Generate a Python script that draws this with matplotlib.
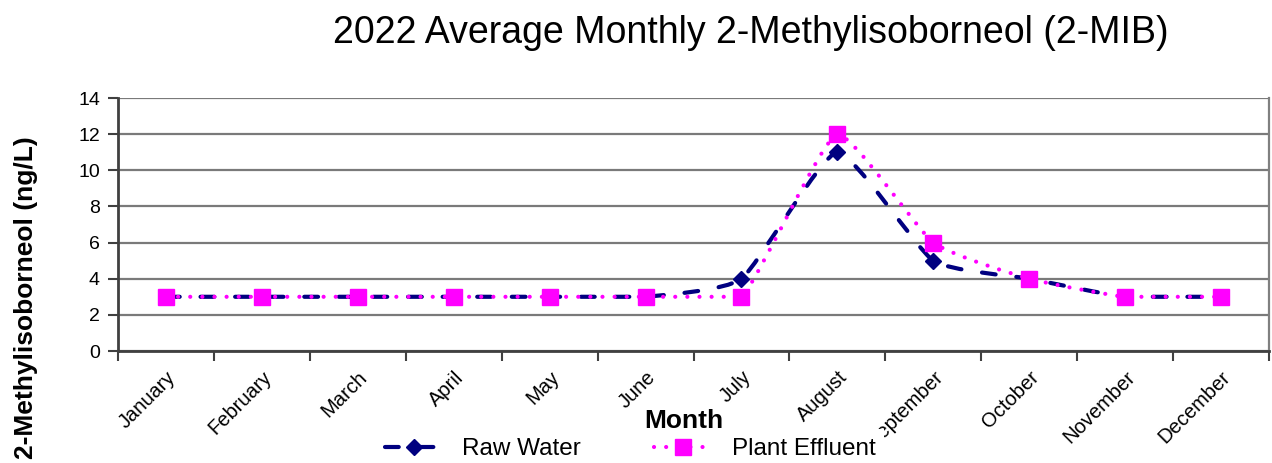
import numpy as np
import matplotlib
matplotlib.use('Agg')
import matplotlib.pyplot as plt
from matplotlib.path import Path
from matplotlib.patches import PathPatch
from matplotlib.lines import Line2D

months = ['January', 'February', 'March', 'April', 'May', 'June', 'July',
          'August', 'September', 'October', 'November', 'December']
raw_water = [3, 3, 3, 3, 3, 3, 4, 11, 5, 4, 3, 3]
plant_effluent = [3, 3, 3, 3, 3, 3, 3, 12, 6, 4, 3, 3]
y_ticks = [0, 2, 4, 6, 8, 10, 12, 14]

plt.rcParams['font.family'] = ['Liberation Sans', 'DejaVu Sans']

W, H = 1272, 463
fig = plt.figure(figsize=(W / 100, H / 100), dpi=100)
ax = fig.add_axes([118 / W, 1 - 351 / H, (1269 - 118) / W, (351 - 98) / H])

NAVY = '#000080'
MAGENTA = '#FF00FF'


def smooth_path(xs, ys, k=1 / 12):
    pts = np.column_stack([xs, ys]).astype(float)
    n = len(pts)
    verts = [pts[0]]
    codes = [Path.MOVETO]
    for i in range(n - 1):
        p0 = pts[max(i - 1, 0)]
        p1 = pts[i]
        p2 = pts[i + 1]
        p3 = pts[min(i + 2, n - 1)]
        c1 = p1 + (p2 - p0) * k
        c2 = p2 - (p3 - p1) * k
        lo, hi = min(p1[1], p2[1]), max(p1[1], p2[1])
        c1[1] = np.clip(c1[1], lo, hi)
        c2[1] = np.clip(c2[1], lo, hi)
        verts += [c1, c2, p2.copy()]
        codes += [Path.CURVE4] * 3
    return Path(verts, codes)


x = np.arange(len(months))

raw_dash = (0, (3.3, 5.0))
eff_dash = (0, (0.01, 2.9))
RAW_MS = 8.5
EFF_MS = 11

p1 = PathPatch(smooth_path(x, raw_water), fill=False, edgecolor=NAVY, lw=3,
               linestyle=raw_dash, capstyle='round', joinstyle='round', zorder=3)
ax.add_patch(p1)
ax.plot(x, raw_water, linestyle='none', marker='D', markersize=RAW_MS,
        color=NAVY, zorder=4)

p2 = PathPatch(smooth_path(x, plant_effluent), fill=False, edgecolor=MAGENTA, lw=3,
               linestyle=eff_dash, capstyle='round', joinstyle='round', zorder=5)
ax.add_patch(p2)
ax.plot(x, plant_effluent, linestyle='none', marker='s', markersize=EFF_MS,
        color=MAGENTA, zorder=6)

ax.set_xlim(-0.5, len(months) - 0.5)
ax.set_ylim(0, 14)
ax.set_yticks(y_ticks)
ax.set_yticklabels([str(v) for v in y_ticks], fontsize=14)
ax.yaxis.grid(True, color='#7a7a7a', lw=1.6)
ax.set_axisbelow(True)

ax.set_xticks(x)
ax.set_xticklabels(months, fontsize=14.5, rotation=45, ha='right', va='top',
                   rotation_mode='anchor')
ax.tick_params(axis='x', length=0, pad=12)
ax.set_xticks(np.arange(-0.5, len(months)), minor=True)
ax.tick_params(axis='x', which='minor', length=7, width=1.5, color='#404040')
ax.tick_params(axis='y', length=7, width=1.5, color='#404040', pad=6)

for s in ['left', 'bottom']:
    ax.spines[s].set_color('#404040')
    ax.spines[s].set_linewidth(2)
ax.spines['right'].set_color('#808080')
ax.spines['right'].set_linewidth(1.6)
ax.spines['top'].set_visible(False)

fig.text(751 / W, 1 - 43 / H, '2022 Average Monthly 2-Methylisoborneol (2-MIB)',
         fontsize=27, ha='center', va='baseline')
fig.text(26 / W, 1 - 298 / H, '2-Methylisoborneol (ng/L)', fontsize=19,
         fontweight='bold', rotation=90, ha='center', va='center')
fig.text(684 / W, 1 - 428 / H, 'Month', fontsize=19, fontweight='bold',
         ha='center', va='baseline')

handles = [
    Line2D([], [], color=NAVY, lw=3, linestyle=raw_dash, dash_capstyle='round',
           marker='D', markersize=RAW_MS),
    Line2D([], [], color=MAGENTA, lw=3, linestyle=eff_dash, dash_capstyle='round',
           marker='s', markersize=EFF_MS),
]
leg = fig.legend(handles, ['Raw Water', 'Plant Effluent'], loc='center',
                 bbox_to_anchor=(630 / W, 1 - 449 / H), ncol=2, frameon=True,
                 fontsize=17.5, handlelength=2.4, handletextpad=0.8,
                 columnspacing=3.0, borderpad=0.35, borderaxespad=0, numpoints=1)
leg.get_frame().set_edgecolor('none')
leg.get_frame().set_facecolor('white')
leg.get_frame().set_alpha(1)
leg.get_frame().set_boxstyle('square', pad=0)

fig.savefig('out.png', dpi=100)
